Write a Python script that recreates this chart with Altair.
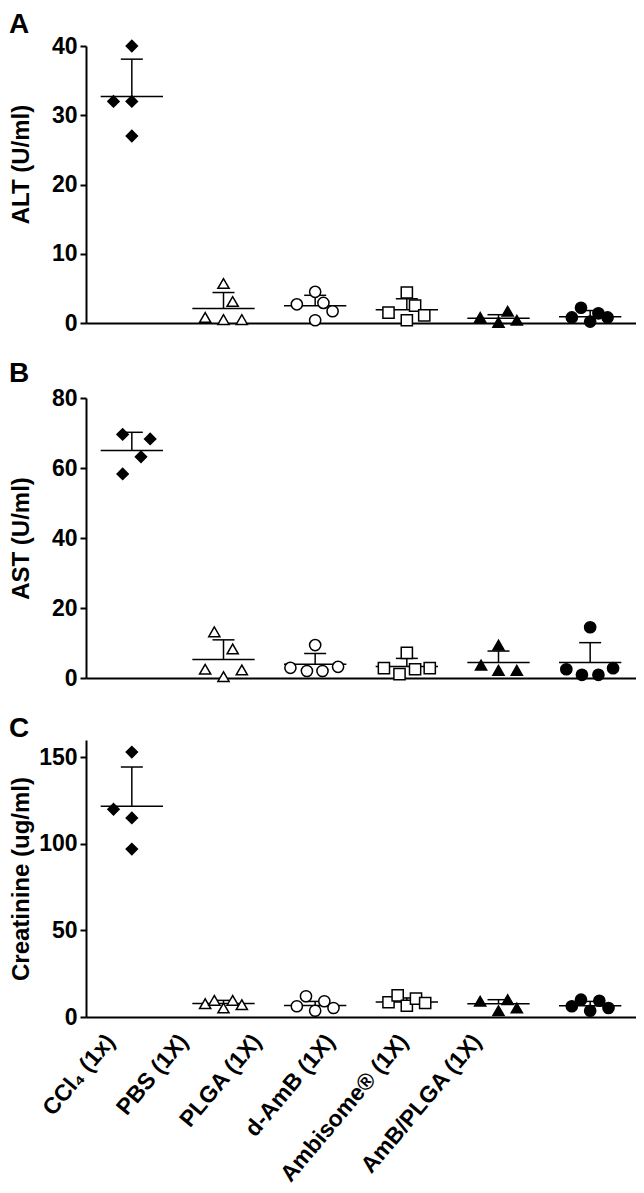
import altair as alt
import pandas as pd

# ---------------- data ----------------
GROUPS = ["CCl4", "PBS", "PLGA", "d-AmB", "Ambisome", "AmB/PLGA"]
LABELS = ["CCl\u2084 (1x)", "PBS (1X)", "PLGA (1X)", "d-AmB (1X)",
          "Ambisome\u00ae (1X)", "AmB/PLGA (1X)"]
SHAPES = ["diamond", "triangle-up", "circle", "square", "triangle-up", "circle"]
FILLS = ["black", "white", "white", "white", "black", "black"]

# Panel A: ALT (U/ml)
ALT_VALUES = [[40, 32, 32, 27], [5.7, 3.1, 0.8, 0.5, 0.5], [4.5, 2.7, 2.9, 1.7, 0.4],
              [4.4, 2.5, 1.5, 1.1, 0.4], [0.8, 1.7, 0.1, 0.4], [2.2, 1.4, 0.8, 0.8, 0.2]]
ALT_JITTER = [[0, -0.2, 0, 0], [0, 0.1, -0.2, 0, 0.2], [0, -0.2, 0.09, 0.19, 0],
              [0, 0.09, -0.2, 0.19, 0], [-0.2, 0.1, 0, 0.2], [-0.1, 0.09, -0.2, 0.19, 0]]
ALT_MEAN = [32.7, 2.1, 2.5, 1.9, 0.7, 0.9]
ALT_SD = [5.4, 2.3, 1.5, 1.6, 0.5, 0.9]

# Panel B: AST (U/ml)
AST_VALUES = [[69.6, 68.3, 63.2, 58.3], [13.2, 8.3, 2.5, 0.4, 2.3], [9.4, 2.9, 2.0, 2.0, 3.2],
              [7.2, 2.8, 1.1, 2.5, 2.8], [9.4, 3.7, 2.2, 2.2], [14.5, 2.5, 0.9, 0.9, 2.8]]
AST_JITTER = [[-0.1, 0.2, 0.1, -0.1], [-0.1, 0.1, -0.2, 0, 0.2], [0, -0.27, -0.09, 0.08, 0.25],
              [0, -0.25, -0.08, 0.09, 0.25], [0, -0.19, 0, 0.2], [0, -0.26, -0.09, 0.09, 0.25]]
AST_MEAN = [65.0, 5.3, 3.9, 3.3, 4.4, 4.4]
AST_SD = [5.2, 5.6, 3.1, 2.3, 3.3, 5.7]

# Panel C: Creatinine (ug/ml)
CRE_VALUES = [[153, 120, 115, 97], [7.7, 9.6, 5.2, 9.6, 7.1], [6.2, 12.0, 3.6, 9.1, 5.2],
              [8.5, 12.5, 6.5, 10.6, 8.1], [9.1, 10.0, 3.6, 5.2], [6.2, 10.0, 3.6, 9.4, 5.2]]
CRE_JITTER = [[0, -0.2, 0, 0], [-0.2, -0.1, 0, 0.1, 0.2], [-0.2, -0.1, 0, 0.1, 0.2],
              [-0.2, -0.1, 0, 0.1, 0.2], [-0.2, 0.1, 0, 0.2], [-0.2, -0.1, 0, 0.1, 0.2]]
CRE_MEAN = [121.7, 7.8, 6.7, 8.7, 7.7, 6.5]
CRE_SD = [22.7, 1.8, 2.3, 2.3, 2.3, 2.5]

# ---------------- layout / style ----------------
FONT = "Liberation Sans"
N = len(GROUPS)
MEAN_HALF = 0.34   # half width of mean line (category units)
CAP_HALF = 0.12    # half width of SD cap
LABEL_START, LABEL_STEP = 0.17, 0.8
LABEL_POS = [LABEL_START + LABEL_STEP * i for i in range(N)]
LABEL_EXPR = ("[" + ",".join("'" + l + "'" for l in LABELS) + "]"
              + f"[round((datum.value - {LABEL_START}) / {LABEL_STEP})]")


def panel(values, jitter, means, sds, ymax, yticks, ytitle, letter, height, bottom,
          title_y=None, letter_offset=-3):
    rows = []
    for i, (g, vals, jit) in enumerate(zip(GROUPS, values, jitter)):
        for v, j in zip(vals, jit):
            rows.append({"group": g, "x": i + 0.5 + j, "value": v})
    pts = pd.DataFrame(rows)
    centers = [i + 0.5 for i in range(N)]
    summ = pd.DataFrame({
        "group": GROUPS,
        "center": centers,
        "mean": means,
        "top": [m + s for m, s in zip(means, sds)],
        "ml": [c - MEAN_HALF for c in centers],
        "mr": [c + MEAN_HALF for c in centers],
        "cl": [c - CAP_HALF for c in centers],
        "cr": [c + CAP_HALF for c in centers],
    })

    xs = alt.Scale(domain=[0, N], nice=False, zero=False)
    ys = alt.Scale(domain=[0, ymax], nice=False, zero=True)
    if bottom:
        xaxis = alt.Axis(values=LABEL_POS, labelExpr=LABEL_EXPR, labelAngle=-50,
                         labelAlign="right", labelBaseline="top", labelOverlap=False,
                         labelFlush=False, labelBound=False, labelLimit=0, ticks=False,
                         grid=False, labelFontSize=23, labelPadding=13, title=None)
    else:
        xaxis = alt.Axis(labels=False, ticks=False, grid=False, title=None)
    yargs = dict(values=yticks, title=ytitle, titleX=-53, grid=False)
    if title_y is not None:
        yargs["titleY"] = title_y
    yaxis = alt.Axis(**yargs)

    rule = dict(color="black", strokeWidth=1.5)
    mean_line = alt.Chart(summ).mark_rule(**rule).encode(
        x=alt.X("ml:Q", scale=xs, axis=xaxis), x2="mr:Q",
        y=alt.Y("mean:Q", scale=ys, axis=yaxis))
    err = alt.Chart(summ).mark_rule(**rule).encode(
        x=alt.X("center:Q", scale=xs, axis=xaxis),
        y=alt.Y("mean:Q", scale=ys, axis=yaxis), y2="top:Q")
    cap = alt.Chart(summ).mark_rule(**rule).encode(
        x=alt.X("cl:Q", scale=xs, axis=xaxis), x2="cr:Q",
        y=alt.Y("top:Q", scale=ys, axis=yaxis))
    points = alt.Chart(pts).mark_point(
        filled=True, stroke="black", strokeWidth=1.5, size=125, opacity=1, fillOpacity=1
    ).encode(
        x=alt.X("x:Q", scale=xs, axis=xaxis),
        y=alt.Y("value:Q", scale=ys, axis=yaxis),
        shape=alt.Shape("group:N", scale=alt.Scale(domain=GROUPS, range=SHAPES), legend=None),
        fill=alt.Fill("group:N", scale=alt.Scale(domain=GROUPS, range=FILLS), legend=None),
    )
    return alt.layer(mean_line, err, cap, points).properties(
        width=550, height=height,
        title=alt.TitleParams(letter, anchor="start", frame="bounds", fontSize=28,
                              fontWeight="bold", font=FONT, color="black",
                              offset=letter_offset),
    )


a = panel(ALT_VALUES, ALT_JITTER, ALT_MEAN, ALT_SD, 40, [0, 10, 20, 30, 40],
          "ALT (U/ml)", "A", 277, False, title_y=118, letter_offset=-4)
b = panel(AST_VALUES, AST_JITTER, AST_MEAN, AST_SD, 80, [0, 20, 40, 60, 80],
          "AST (U/ml)", "B", 280, False, letter_offset=-1)
c = panel(CRE_VALUES, CRE_JITTER, CRE_MEAN, CRE_SD, 160, [0, 50, 100, 150],
          "Creatinine (ug/ml)", "C", 277, True, letter_offset=-3)

chart = alt.vconcat(a, b, c, spacing=25).properties(
    padding={"top": 3, "left": 0, "right": 0, "bottom": 0}
).configure_axis(
    labelFont=FONT, labelFontWeight="bold", labelFontSize=23, labelColor="black",
    titleFont=FONT, titleFontWeight="bold", titleFontSize=24, titleColor="black",
    domainColor="black", domainWidth=2, tickColor="black", tickWidth=2, tickSize=6,
    labelPadding=3,
).configure_view(stroke=None)

chart.save("out.html", embed_options={"renderer": "svg", "actions": False})
